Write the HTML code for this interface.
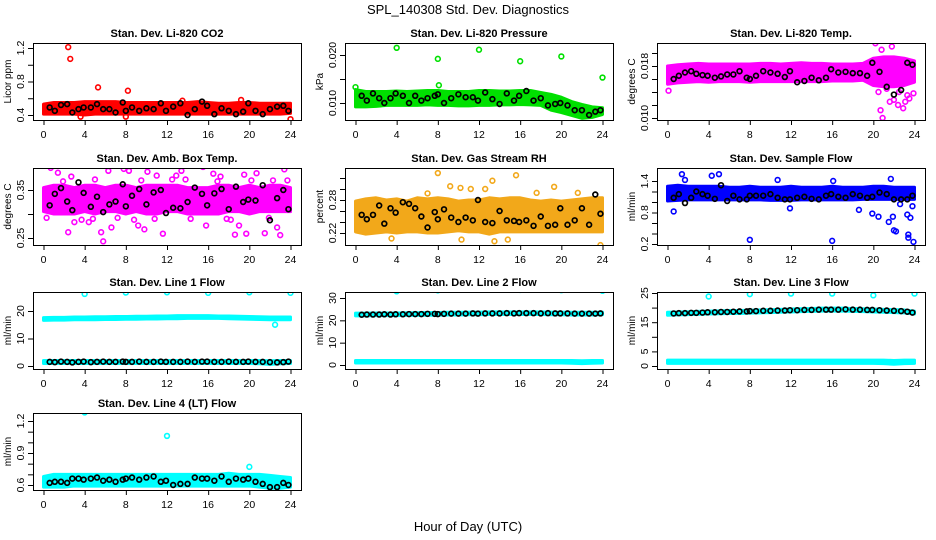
<!DOCTYPE html>
<html><head><meta charset="utf-8"><style>
body{margin:0;background:#fff;}
svg{display:block;font-family:"Liberation Sans",Arial,sans-serif;}
</style></head><body>
<svg id="chart" width="936" height="540" viewBox="0 0 936 540">
<rect width="936" height="540" fill="#fff"/>
<text x="468" y="14" font-size="13" text-anchor="middle">SPL_140308  Std. Dev. Diagnostics</text>
<text x="468" y="531" font-size="13" text-anchor="middle">Hour of Day (UTC)</text>
</svg>
<script>
const hours = [0,1,2,3,4,5,6,7,8,9,10,11,12,13,14,15,16,17,18,19,20,21,22,23,24];
const blackHours = [0.6,1.1,1.7,2.3,2.8,3.4,3.9,4.6,5.2,5.8,6.4,7.0,7.7,8.0,8.6,9.3,10.0,10.7,11.4,11.9,12.6,13.3,14.0,14.7,15.4,15.9,16.6,17.3,18.0,18.7,19.4,19.9,20.6,21.3,22.0,22.7,23.3,23.8];

const co2Lo = [0.41,0.41,0.41,0.41,0.40,0.41,0.41,0.41,0.41,0.41,0.41,0.41,0.41,0.41,0.41,0.41,0.41,0.41,0.41,0.41,0.41,0.41,0.41,0.41,0.42];
const co2Hi = [0.53,0.55,0.55,0.55,0.56,0.56,0.56,0.56,0.55,0.55,0.55,0.55,0.55,0.55,0.55,0.56,0.55,0.54,0.54,0.55,0.55,0.54,0.54,0.54,0.54];
const co2OutX = [2.4,2.6,5.3,8.2,24,3.6,8.0,13.5,19.2];
const co2OutY = [1.21,1.07,0.73,0.69,0.35,0.38,0.38,0.57,0.58];
const co2Black = [0.49,0.45,0.52,0.53,0.43,0.47,0.49,0.49,0.53,0.47,0.47,0.43,0.55,0.45,0.49,0.45,0.48,0.47,0.54,0.45,0.50,0.54,0.40,0.47,0.56,0.51,0.41,0.48,0.45,0.41,0.44,0.54,0.45,0.41,0.47,0.50,0.51,0.45];

const presLo = [0.0092,0.0092,0.0093,0.0095,0.0095,0.0095,0.0095,0.0096,0.0095,0.0095,0.0094,0.0094,0.0095,0.0095,0.0096,0.0096,0.0097,0.0096,0.0095,0.0085,0.0080,0.0074,0.0068,0.0070,0.0076];
const presHi = [0.0128,0.0124,0.0124,0.0124,0.0125,0.0124,0.0125,0.0126,0.0126,0.0124,0.0124,0.0124,0.0126,0.0126,0.0125,0.0125,0.0126,0.0126,0.0122,0.0118,0.0112,0.0103,0.0097,0.0092,0.0090];
const presOutX = [4,8,8.1,12,16,20,24,0];
const presOutY = [0.0215,0.0192,0.0137,0.0211,0.0187,0.0197,0.0153,0.0133];
const presBlack = [0.0115,0.0105,0.0120,0.0110,0.0100,0.0110,0.0120,0.0115,0.0100,0.0115,0.0105,0.0110,0.0115,0.0118,0.0100,0.0110,0.0118,0.0112,0.0112,0.0105,0.0122,0.0108,0.0098,0.0120,0.0105,0.0115,0.0125,0.0105,0.0110,0.0095,0.0098,0.0100,0.0095,0.0085,0.0085,0.0075,0.0082,0.0085];

const tempLo = [0.0152,0.0154,0.0155,0.0156,0.0155,0.0156,0.0156,0.0156,0.0155,0.0156,0.0156,0.0156,0.0156,0.0156,0.0156,0.0156,0.0157,0.0157,0.0157,0.0158,0.0150,0.0148,0.0148,0.0150,0.0155];
const tempHi = [0.0180,0.0182,0.0183,0.0184,0.0183,0.0183,0.0183,0.0183,0.0183,0.0184,0.0184,0.0183,0.0184,0.0185,0.0184,0.0184,0.0183,0.0183,0.0183,0.0184,0.0192,0.0194,0.0194,0.0192,0.0188];
const tempOutX = [20.2,21.1,22.7,20.7,20.9,21.6,22.4,23.3,0.1,23.9,20.5,21.3,22.0,22.9,23.5,20.8,21.8,22.5,23.1];
const tempOutY = [0.0215,0.0223,0.0220,0.0112,0.0100,0.0125,0.0120,0.0135,0.0142,0.0138,0.0140,0.0145,0.0128,0.0115,0.0130,0.0205,0.0210,0.0140,0.0125];
const tempBlack = [0.0160,0.0165,0.0170,0.0172,0.0168,0.0166,0.0165,0.0162,0.0164,0.0167,0.0167,0.0172,0.0162,0.0160,0.0165,0.0172,0.0170,0.0168,0.0163,0.0172,0.0155,0.0157,0.0162,0.0158,0.0162,0.0175,0.0170,0.0171,0.0169,0.0169,0.0165,0.0185,0.0171,0.0148,0.0136,0.0143,0.0185,0.0182];

const ambLo = [0.305,0.30,0.30,0.30,0.305,0.30,0.305,0.305,0.30,0.305,0.30,0.30,0.305,0.305,0.30,0.30,0.30,0.30,0.305,0.305,0.30,0.305,0.305,0.305,0.305];
const ambHi = [0.355,0.36,0.36,0.355,0.36,0.36,0.355,0.36,0.36,0.355,0.36,0.36,0.36,0.36,0.355,0.355,0.355,0.36,0.36,0.355,0.36,0.355,0.36,0.36,0.355];
const ambOutX = [0.7,1.4,2.4,3.0,4.4,5.6,5.8,6.6,7.8,8.3,9.2,9.8,10.1,11.6,12.2,12.9,13.4,15.5,15.8,16.5,17.2,18.6,19.0,19.7,20.7,21.5,22.7,23.4,23.0,2.7,6.3,11.0,19.5,0.3,1.9,3.7,5.0,7.2,9.5,10.8,12.5,14.3,16.9,18.2,20.2,21.9,23.7,4.8,8.8,13.8,17.8,22.3];
const ambOutY = [0.396,0.386,0.262,0.283,0.283,0.262,0.243,0.272,0.394,0.39,0.276,0.268,0.388,0.259,0.402,0.38,0.39,0.398,0.276,0.384,0.378,0.257,0.276,0.259,0.385,0.26,0.272,0.393,0.256,0.378,0.39,0.38,0.382,0.292,0.368,0.288,0.372,0.292,0.37,0.29,0.372,0.29,0.368,0.288,0.37,0.292,0.37,0.29,0.288,0.372,0.29,0.37];
const ambBlack = [0.318,0.342,0.354,0.326,0.308,0.366,0.344,0.315,0.336,0.304,0.32,0.326,0.362,0.316,0.338,0.352,0.32,0.345,0.35,0.302,0.313,0.312,0.325,0.355,0.342,0.318,0.343,0.352,0.31,0.357,0.325,0.33,0.328,0.36,0.287,0.333,0.35,0.31];

const rhLo = [0.222,0.218,0.22,0.222,0.22,0.222,0.222,0.22,0.22,0.222,0.224,0.222,0.222,0.218,0.222,0.222,0.222,0.222,0.222,0.222,0.222,0.222,0.222,0.222,0.222];
const rhHi = [0.278,0.282,0.284,0.28,0.282,0.278,0.284,0.282,0.284,0.282,0.278,0.28,0.28,0.284,0.282,0.284,0.284,0.28,0.278,0.28,0.278,0.28,0.282,0.284,0.284];
const rhOutX = [8.0,9.2,10.2,11.2,12.6,13.3,15.6,17.6,19.3,21.6,3.5,10.3,13.5,14.8,23.8,7.0];
const rhOutY = [0.329,0.305,0.302,0.300,0.300,0.315,0.325,0.293,0.304,0.293,0.210,0.208,0.205,0.208,0.198,0.292];
const rhBlack = [0.253,0.245,0.253,0.27,0.237,0.265,0.257,0.276,0.273,0.265,0.25,0.23,0.258,0.245,0.263,0.248,0.24,0.248,0.243,0.28,0.24,0.238,0.26,0.243,0.242,0.24,0.243,0.233,0.25,0.233,0.235,0.265,0.235,0.243,0.265,0.235,0.29,0.255];

const flowLo = [1.02,1.03,1.04,1.04,1.04,1.04,1.04,1.04,1.04,1.04,1.03,1.03,1.03,1.04,1.04,1.04,1.04,1.04,1.04,1.05,1.05,1.05,1.05,1.05,1.05];
const flowHi = [1.30,1.32,1.30,1.30,1.30,1.30,1.28,1.28,1.30,1.28,1.28,1.28,1.30,1.28,1.28,1.28,1.30,1.28,1.28,1.28,1.30,1.30,1.28,1.28,1.28];
const flowOutX = [1.4,1.7,0.6,4.3,5.0,8.0,10.7,11.9,16.0,16.1,18.6,19.9,20.5,21.5,21.9,21.7,22.0,22.2,22.6,23.3,23.4,23.6,23.9,23.4,23.8];
const flowOutY = [1.53,1.42,0.82,1.50,1.53,0.28,1.42,0.88,0.26,1.40,0.85,0.78,0.72,0.62,0.72,1.44,0.46,0.44,0.96,0.76,0.38,0.70,0.24,0.32,0.92];
const flowBlack = [1.08,1.15,0.98,1.08,1.2,1.15,1.12,1.06,1.32,1.02,1.12,1.05,1.05,1.12,1.12,1.12,1.15,1.08,1.05,1.05,1.08,1.1,1.06,1.05,1.12,1.15,1.1,1.08,1.15,1.12,1.08,1.1,1.18,1.15,1.05,1.05,1.05,1.12];

const l1Lo = [16.6,16.7,16.7,16.8,16.8,16.8,16.9,16.9,17.0,17.0,17.1,17.1,17.2,17.2,17.3,17.3,17.3,17.3,17.2,17.1,17.0,16.9,16.8,16.8,16.8];
const l1Hi = [17.6,17.7,17.7,17.8,17.8,17.9,17.9,18.0,18.0,18.1,18.1,18.2,18.2,18.3,18.3,18.3,18.3,18.2,18.2,18.1,18.0,17.9,17.8,17.8,17.8];
const l1OutX = [4,8,12,16,20,24,22.5];
const l1OutY = [26.2,26.7,26.8,26.6,26.8,26.6,15.0];
const l1Black = [1.5,1.4,1.6,1.5,1.3,1.5,1.6,1.4,1.5,1.6,1.5,1.5,1.6,1.5,1.5,1.6,1.5,1.5,1.6,1.5,1.5,1.5,1.6,1.5,1.6,1.6,1.5,1.5,1.6,1.5,1.5,1.6,1.5,1.5,1.4,1.3,1.4,1.6];

const l2Lo = [22.0,22.0,22.1,22.1,22.1,22.2,22.2,22.3,22.3,22.4,22.4,22.5,22.5,22.6,22.6,22.6,22.6,22.6,22.6,22.5,22.5,22.4,22.4,22.4,22.5];
const l2Hi = [23.2,23.2,23.3,23.3,23.3,23.4,23.4,23.5,23.5,23.6,23.6,23.7,23.7,23.8,23.8,23.8,23.8,23.8,23.8,23.7,23.7,23.6,23.6,23.6,23.7];
const l2OutX = [4,8,12,16,20,24];
const l2OutY = [33.0,33.4,33.8,33.6,33.5,33.2];
const l2Black = [22.5,22.6,22.6,22.6,22.7,22.6,22.7,22.7,22.8,22.8,22.8,22.9,22.9,22.8,22.9,23.0,23.0,23.0,23.1,23.0,23.1,23.1,23.1,23.2,23.1,23.2,23.2,23.2,23.1,23.2,23.1,23.1,23.1,23.0,23.0,23.0,23.0,23.1];

const l3Lo = [17.4,17.5,17.6,17.7,17.8,17.9,18.0,18.0,18.1,18.2,18.3,18.4,18.5,18.6,18.7,18.8,18.8,18.8,18.7,18.6,18.5,18.4,18.3,18.2,17.8];
const l3Hi = [18.4,18.5,18.6,18.7,18.8,18.9,19.0,19.0,19.1,19.2,19.3,19.4,19.5,19.6,19.7,19.8,19.8,19.8,19.7,19.6,19.5,19.4,19.3,19.2,18.8];
const l3OutX = [4,8,12,16,20,24];
const l3OutY = [23.8,24.6,24.8,24.8,24.2,24.8];
const l3Black = [18.0,18.1,18.1,18.2,18.2,18.3,18.4,18.4,18.5,18.5,18.6,18.7,18.7,18.8,18.8,18.9,18.9,19.0,19.0,19.1,19.1,19.2,19.2,19.3,19.3,19.3,19.3,19.4,19.3,19.3,19.2,19.2,19.1,19.0,18.9,18.8,18.6,18.3];

const lowCyanLo = [0.9,0.9,0.9,0.9,0.9,0.9,0.9,0.9,0.9,0.9,0.9,0.9,0.9,0.9,0.9,0.9,0.9,0.9,0.9,0.9,0.9,0.8,0.6,0.8,0.9];
const lowCyanHi = [2.0,2.0,2.0,2.0,2.0,2.0,2.0,2.0,2.0,2.0,2.0,2.0,2.0,2.0,2.0,2.0,2.0,2.0,2.0,2.0,2.0,2.0,1.9,2.0,2.0];

const l4Lo = [0.58,0.58,0.58,0.59,0.59,0.59,0.59,0.59,0.59,0.59,0.59,0.59,0.59,0.59,0.59,0.59,0.59,0.59,0.59,0.59,0.59,0.58,0.57,0.57,0.58];
const l4Hi = [0.68,0.70,0.70,0.70,0.70,0.70,0.70,0.70,0.70,0.70,0.70,0.70,0.70,0.70,0.70,0.70,0.70,0.70,0.71,0.70,0.70,0.70,0.69,0.68,0.67];
const l4OutX = [4,12,20];
const l4OutY = [1.28,1.06,0.77];
const l4Black = [0.62,0.63,0.63,0.62,0.66,0.66,0.65,0.66,0.67,0.64,0.65,0.63,0.65,0.66,0.67,0.65,0.67,0.68,0.63,0.64,0.60,0.61,0.61,0.67,0.66,0.66,0.64,0.68,0.63,0.66,0.65,0.66,0.63,0.61,0.58,0.58,0.62,0.60];

const xTicks = [0,4,8,12,16,20,24];

const panels = [
 {name:'co2',title:'Stan. Dev. Li-820 CO2',ylab:'Licor ppm',col:0,row:0,color:'#ff0000',lo:co2Lo,hi:co2Hi,ox:co2OutX,oy:co2OutY,blk:co2Black,
  a:[0.4,115,1.2,48],ticks:[0.4,0.6,0.8,1.0,1.2],labels:['0.4','0.8','1.2'],labVals:[0.4,0.8,1.2]},
 {name:'pressure',title:'Stan. Dev. Li-820 Pressure',ylab:'kPa',col:1,row:0,color:'#00e000',lo:presLo,hi:presHi,ox:presOutX,oy:presOutY,blk:presBlack,
  a:[0.010,103,0.020,55],ticks:[0.010,0.015,0.020],labels:['0.010','0.020'],labVals:[0.010,0.020]},
 {name:'temp',title:'Stan. Dev. Li-820 Temp.',ylab:'degrees C',col:2,row:0,color:'#ff00ff',lo:tempLo,hi:tempHi,ox:tempOutX,oy:tempOutY,blk:tempBlack,
  a:[0.010,118,0.018,66],ticks:[0.010,0.012,0.014,0.016,0.018,0.020,0.022],labels:['0.010','0.018'],labVals:[0.010,0.018]},
 {name:'amb-box',title:'Stan. Dev. Amb. Box Temp.',ylab:'degrees C',col:0,row:1,color:'#ff00ff',lo:ambLo,hi:ambHi,ox:ambOutX,oy:ambOutY,blk:ambBlack,
  a:[0.25,238,0.35,190],ticks:[0.25,0.30,0.35],labels:['0.25','0.35'],labVals:[0.25,0.35]},
 {name:'rh',title:'Stan. Dev. Gas Stream RH',ylab:'percent',col:1,row:1,color:'#f2a81a',lo:rhLo,hi:rhHi,ox:rhOutX,oy:rhOutY,blk:rhBlack,
  a:[0.22,233,0.28,200],ticks:[0.22,0.24,0.26,0.28,0.30,0.32],labels:['0.22','0.28'],labVals:[0.22,0.28]},
 {name:'sample-flow',title:'Stan. Dev. Sample Flow',ylab:'ml/min',col:2,row:1,color:'#0000ff',lo:flowLo,hi:flowHi,ox:flowOutX,oy:flowOutY,blk:flowBlack,
  a:[0.2,244,1.4,181],ticks:[0.2,0.4,0.6,0.8,1.0,1.2,1.4],labels:['0.2','0.8','1.4'],labVals:[0.2,0.8,1.4]},
 {name:'line1',title:'Stan. Dev. Line 1 Flow',ylab:'ml/min',col:0,row:2,color:'#00ffff',lo:l1Lo,hi:l1Hi,lo2:lowCyanLo,hi2:lowCyanHi,ox:l1OutX,oy:l1OutY,blk:l1Black,
  a:[0,366,20,311],ticks:[0,10,20],labels:['0','10','20'],labVals:[0,10,20]},
 {name:'line2',title:'Stan. Dev. Line 2 Flow',ylab:'ml/min',col:1,row:2,color:'#00ffff',lo:l2Lo,hi:l2Hi,lo2:lowCyanLo,hi2:lowCyanHi,ox:l2OutX,oy:l2OutY,blk:l2Black,
  a:[0,365,30,298],ticks:[0,10,20,30],labels:['0','10','20','30'],labVals:[0,10,20,30]},
 {name:'line3',title:'Stan. Dev. Line 3 Flow',ylab:'ml/min',col:2,row:2,color:'#00ffff',lo:l3Lo,hi:l3Hi,lo2:lowCyanLo,hi2:lowCyanHi,ox:l3OutX,oy:l3OutY,blk:l3Black,
  a:[0,366,25,293],ticks:[0,5,10,15,20,25],labels:['0','5','15','25'],labVals:[0,5,15,25]},
 {name:'line4',title:'Stan. Dev. Line 4 (LT) Flow',ylab:'ml/min',col:0,row:3,color:'#00ffff',lo:l4Lo,hi:l4Hi,ox:l4OutX,oy:l4OutY,blk:l4Black,
  a:[0.6,485,1.2,421],ticks:[0.6,0.7,0.8,0.9,1.0,1.1,1.2],labels:['0.6','0.9','1.2'],labVals:[0.6,0.9,1.2]}
];

const NS='http://www.w3.org/2000/svg';
const svg=document.getElementById('chart');
const colLeft=[33,345,657], rowTop=[43,168,292,413], boxW=268, boxH=77;
function mk(tag,attrs,parent){const e=document.createElementNS(NS,tag);for(const k in attrs)e.setAttribute(k,attrs[k]);(parent||svg).appendChild(e);return e;}

panels.forEach(p=>{
  const L=colLeft[p.col], T=rowTop[p.row], B=T+boxH;
  const xs=h=>L+10.5+h*(boxW-21)/24;
  const ys=v=>p.a[1]+(v-p.a[0])*(p.a[3]-p.a[1])/(p.a[2]-p.a[0]);
  const g=mk('g',{});
  
  
  const clip=mk('clipPath',{id:'c-'+p.name},g);
  mk('rect',{x:L,y:T,width:boxW,height:boxH},clip);
  const plot=mk('g',{'clip-path':'url(#c-'+p.name+')'},g);
  function band(lo,hi,nm){
    let pts=hours.map((h,i)=>xs(h)+','+ys(hi[i]));
    pts=pts.concat(hours.slice().reverse().map((h,j)=>{const i=hours.length-1-j;return xs(h)+','+ys(lo[i]);}));
    const poly=mk('polygon',{points:pts.join(' '),fill:p.color,stroke:p.color,'stroke-width':3,'stroke-linejoin':'round'},plot);
    
    
  }
  band(p.lo,p.hi,'data-band-'+p.name);
  if(p.lo2) band(p.lo2,p.hi2,'data-band-low-'+p.name);
  p.ox.forEach((h,i)=>{
    const c=mk('circle',{cx:xs(h),cy:ys(p.oy[i]),r:2.4,fill:'none',stroke:p.color,'stroke-width':1.6},plot);
    
    
  });
  p.blk.forEach((v,i)=>{
    const c=mk('circle',{cx:xs(blackHours[i]),cy:ys(v),r:2.4,fill:'none',stroke:'#000','stroke-width':1.7},plot);
    
    
  });
  const box=mk('rect',{x:L+0.5,y:T+0.5,width:boxW,height:boxH,fill:'none',stroke:'#000','stroke-width':1},g);
  
  
  const t=mk('text',{x:L+boxW/2,y:T-6,'font-size':11,'font-weight':'bold','text-anchor':'middle'},g);
  t.textContent=p.title;
  
  
  const xa=mk('g',{},g);
  
  
  mk('line',{x1:xs(0),x2:xs(24),y1:B+0.5,y2:B+0.5,stroke:'#000'},xa);
  xTicks.forEach(h=>{
    mk('line',{x1:xs(h)+0.5,x2:xs(h)+0.5,y1:B,y2:B+5,stroke:'#000'},xa);
    const tx=mk('text',{x:xs(h),y:B+18,'font-size':10.5,'text-anchor':'middle'},xa);
    tx.textContent=String(h);
  });
  const ya=mk('g',{},g);
  
  
  const yt=p.ticks.map(ys).filter(y=>y>=T-1&&y<=B+1);
  mk('line',{x1:L+0.5,x2:L+0.5,y1:Math.min(...yt),y2:Math.max(...yt),stroke:'#000'},ya);
  p.ticks.forEach(v=>{const y=ys(v); if(y<T-1||y>B+1)return; mk('line',{x1:L-5,x2:L,y1:y+0.5,y2:y+0.5,stroke:'#000'},ya);});
  p.labVals.forEach((v,i)=>{
    const y=ys(v);
    const tx=mk('text',{x:L-9,y:y,'font-size':10.5,'text-anchor':'middle',transform:'rotate(-90 '+(L-9)+' '+y+')'},ya);
    tx.textContent=p.labels[i];
  });
  const yl=mk('text',{x:L-22,y:T+boxH/2,'font-size':10,'text-anchor':'middle',transform:'rotate(-90 '+(L-22)+' '+(T+boxH/2)+')'},g);
  yl.textContent=p.ylab;
  
  
});
</script>
</body></html>
